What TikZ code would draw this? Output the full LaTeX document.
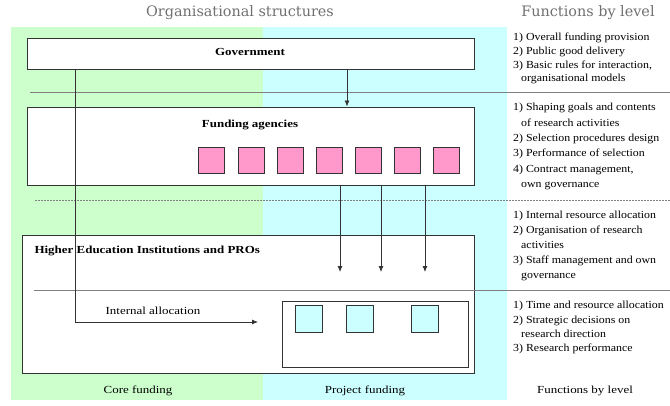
\documentclass[tikz,border=0pt]{standalone}
\usepackage{fontspec}
\setmainfont[FakeStretch=1.2]{Liberation Serif}
\newfontfamily\colfont[FakeStretch=1.1]{Liberation Serif}
\newfontfamily\titlefont{DejaVu Serif}
\usetikzlibrary{arrows.meta,calc}
\definecolor{bggreen}{HTML}{CCFFCC}
\definecolor{bgcyan}{HTML}{CCFFFF}
\definecolor{sqpink}{HTML}{FF99CC}
\definecolor{linec}{HTML}{333333}
\definecolor{titlec}{HTML}{707070}
\tikzset{
  box/.style={draw=linec, line width=1pt, fill=white, inner sep=0pt},
  pinksq/.style={draw=linec, line width=0.9pt, fill=sqpink, minimum width=26pt, minimum height=26pt, inner sep=0pt},
  cyansq/.style={draw=linec, line width=0.9pt, fill=bgcyan, minimum width=27pt, minimum height=27pt, inner sep=0pt},
  arr/.style={draw=linec, line width=0.8pt, -{Latex[length=6pt,width=5pt]}},
  sep/.style={draw=gray, line width=0.8pt},
  sepdash/.style={draw=gray, line width=0.8pt, dash pattern=on 2pt off 1pt},
  ttl/.style={font=\titlefont\fontsize{14.4}{16}\selectfont, text=titlec},
  lbl/.style={font=\bfseries\fontsize{10.8}{12}\selectfont},
  fn/.style={align=left, anchor=north west, inner sep=0pt},
  captxt/.style={font=\fontsize{10.8}{12}\selectfont},
}
\begin{document}
\begin{tikzpicture}[x=1pt,y=-1pt]
\useasboundingbox (0,0) rectangle (670,405);
% backgrounds
\fill[bggreen] (11,27) rectangle (263,400);
\fill[bgcyan] (263,27) rectangle (507,400);
% titles
\node[ttl] (t1) at (240,13) {Organisational structures};
\node[ttl] (t2) at (588,13) {Functions by level};
% separators
\draw[sep] (30,92) -- (670,92);
\draw[sepdash] (35,200) -- (670,200);
% boxes
\node[box, minimum width=447pt, minimum height=31pt] (gov) at (250.5,53.5) {};
\node[lbl] (govl) at (250,52) {Government};
\node[box, minimum width=447pt, minimum height=78pt] (fund) at (250.5,146) {};
\node[lbl] (fundl) at (250,125) {Funding agencies};
\foreach \i/\x in {1/211,2/251,3/290,4/329,5/368,6/407,7/446}
  \node[pinksq] (p\i) at (\x,160) {};
\node[box, minimum width=452pt, minimum height=138pt] (hei) at (248,304) {};
\node[lbl, anchor=west] (heil) at (31,251) {Higher Education Institutions and PROs};
\draw[sep] (34,290) -- (670,290);
\node[box, minimum width=186pt, minimum height=66pt] (inner) at (375,334) {};
\foreach \i/\x in {1/308.5,2/360,3/425}
  \node[cyansq] (c\i) at (\x,318.5) {};
% arrows
\coordinate (ga) at (347,0);
\draw[arr] (ga |- gov.south) -- (ga |- fund.north);
\foreach \i/\x in {1/340,2/381,3/425}{
  \coordinate (fe\i) at (\x,272);
  \draw[arr] (fe\i |- fund.south) -- (fe\i);
}
\coordinate (va) at (75,0);
\coordinate (ia) at (258,322);
\draw[arr] (va |- gov.south) -- (va |- ia) -- (ia);
\node[captxt] (ial) at (153,311) {Internal allocation};
% bottom captions
\node[captxt] (cf) at (138,391) {Core funding};
\node[captxt] (pf) at (365,391) {Project funding};
\node[captxt] (fl) at (585,391) {Functions by level};
% right column
\node[fn, font=\colfont\fontsize{10.8}{13.6}\selectfont] (f1) at (513,33) {1) Overall funding provision\\2) Public good delivery\\3) Basic rules for interaction,\\\hspace*{8pt}organisational models};
\node[fn, font=\colfont\fontsize{10.8}{15.4}\selectfont] (f2) at (513,103) {1) Shaping goals and contents\\\hspace*{8pt}of research activities\\2) Selection procedures design\\3) Performance of selection\\4) Contract management,\\\hspace*{8pt}own governance};
\node[fn, font=\colfont\fontsize{10.8}{15}\selectfont] (f3) at (513,211) {1) Internal resource allocation\\2) Organisation of research\\\hspace*{8pt}activities\\3) Staff management and own\\\hspace*{8pt}governance};
\node[fn, font=\colfont\fontsize{10.8}{14.3}\selectfont] (f4) at (513,301) {1) Time and resource allocation\\2) Strategic decisions on\\\hspace*{8pt}research direction\\3) Research performance};
\end{tikzpicture}
\end{document}
